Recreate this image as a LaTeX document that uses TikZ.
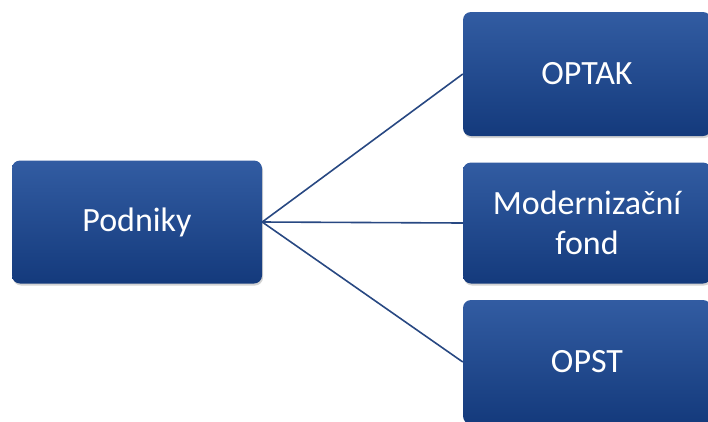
\documentclass[tikz,border=0pt]{standalone}
\usepackage{fontspec}
\setmainfont{Carlito}
\usetikzlibrary{shadows}
\definecolor{boxtop}{RGB}{50,92,162}
\definecolor{boxbot}{RGB}{20,58,124}
\definecolor{linec}{RGB}{40,72,130}
\begin{document}
\begin{tikzpicture}[x=1pt,y=-1pt,
  box/.style={rounded corners=8pt, top color=boxtop, bottom color=boxbot, draw=none,
    text=white, font=\fontsize{34}{40}\selectfont, align=center, inner sep=0pt,
    drop shadow={shadow xshift=1pt, shadow yshift=-2pt, opacity=0.35}},
  conn/.style={draw=linec, line width=1.6pt}]
\useasboundingbox (0,0) rectangle (708,421);
\node[box, minimum width=250pt, minimum height=123pt] (pod) at (137,222) {Podniky};
\node[box, minimum width=248pt, minimum height=124pt] (optak) at (587,74) {OPTAK};
\node[box, minimum width=248pt, minimum height=121pt] (mod) at (587,223) {Modernizační\\fond};
\node[box, minimum width=248pt, minimum height=124pt] (opst) at (587,362) {OPST};
\draw[conn] (pod.east) -- (optak.west);
\draw[conn] (pod.east) -- (mod.west);
\draw[conn] (pod.east) -- (opst.west);
\end{tikzpicture}
\end{document}
